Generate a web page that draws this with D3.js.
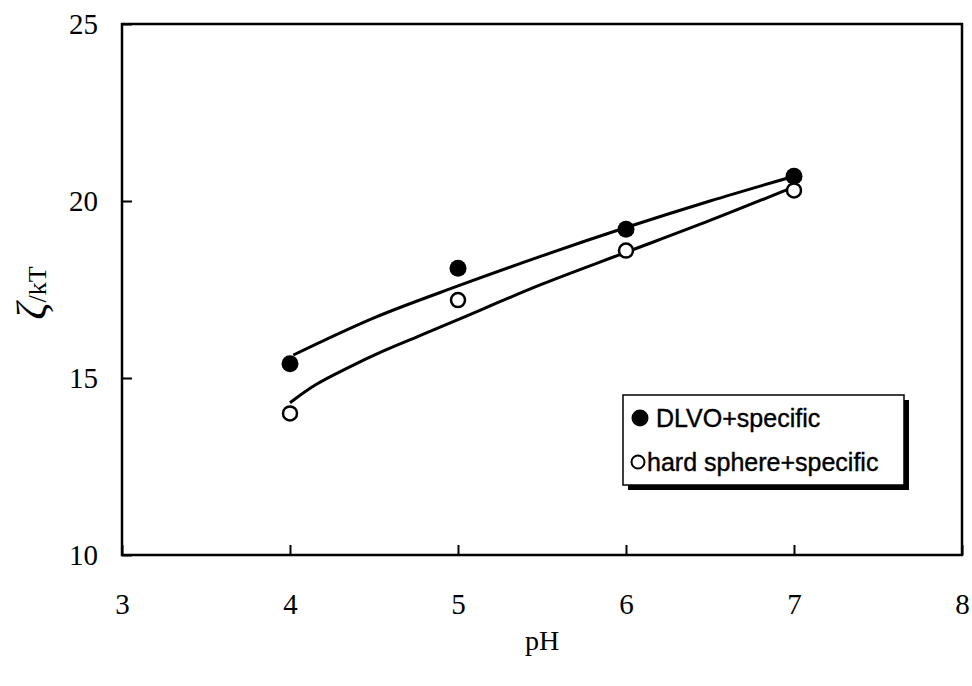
<!DOCTYPE html>
<html>
<head>
<meta charset="utf-8">
<script src="https://cdn.jsdelivr.net/npm/d3@7"></script>
<style>
  body { margin: 0; background: #fff; }
  svg text { fill: #000; }
</style>
</head>
<body>
<div id="chart"></div>
<script>
// ******* Data *******
var phPoints = [4, 5, 6, 7];
var dlvoValues = [15.4, 18.1, 19.2, 20.7];
var hardValues = [14.0, 17.2, 18.6, 20.3];

// fitted curves
var dlvoCurvePh = [4.02, 4.5, 5, 5.5, 6, 6.5, 7];
var dlvoCurveVal = [15.65, 16.7, 17.6, 18.45, 19.25, 20.0, 20.7];
var hardCurvePh = [4.0, 4.15, 4.35, 4.55, 4.75, 5, 5.5, 6, 6.5, 7];
var hardCurveVal = [14.3, 14.8, 15.3, 15.75, 16.15, 16.65, 17.65, 18.55, 19.45, 20.4];

var xTicks = [3, 4, 5, 6, 7, 8];
var yTicks = [10, 15, 20, 25];
var legendKeys = ["DLVO+specific", "hard sphere+specific"];

// ******* Chart set up *******
var w = 972, h = 686;
var margin = { left: 122, top: 24, right: 10, bottom: 131 };
var svg = d3.select("#chart").append("svg").attr("width", w).attr("height", h);

var x = d3.scaleLinear().domain([3, 8]).range([margin.left, w - margin.right]);
var y = d3.scaleLinear().domain([10, 25]).range([h - margin.bottom, margin.top]);

// ******* Frame + ticks *******
svg.append("rect")
  .attr("x", x(3)).attr("y", y(25))
  .attr("width", x(8) - x(3)).attr("height", y(10) - y(25))
  .attr("fill", "none").attr("stroke", "#000").attr("stroke-width", 2.5);

var xAxis = svg.append("g")
  .attr("transform", "translate(0," + y(10) + ")")
  .call(d3.axisBottom(x).tickValues(xTicks).tickSize(-10).tickPadding(38).tickFormat(d3.format("d")));
var yAxis = svg.append("g")
  .attr("transform", "translate(" + x(3) + ",0)")
  .call(d3.axisLeft(y).tickValues(yTicks).tickSize(-10).tickPadding(24).tickFormat(d3.format("d")));

[xAxis, yAxis].forEach(function (a) {
  a.select(".domain").remove();
  a.selectAll(".tick line").attr("stroke", "#000").attr("stroke-width", 2);
  a.selectAll(".tick text")
    .style("font-family", "'Liberation Serif', 'DejaVu Serif', serif")
    .style("font-size", "29px");
});

// axis titles
svg.append("text")
  .attr("x", x(5.5)).attr("y", 650)
  .attr("text-anchor", "middle")
  .style("font-family", "'Liberation Serif', serif")
  .style("font-size", "28px")
  .text("pH");

var yTitle = svg.append("text")
  .attr("transform", "translate(46,293) rotate(-90)")
  .attr("text-anchor", "middle")
  .style("font-family", "'Liberation Serif', serif");
yTitle.append("tspan").style("font-size", "42px").style("font-style", "italic").text("ζ");
yTitle.append("tspan").style("font-size", "26px").text("/kT");

// ******* Curves *******
var line = d3.line().x(d => x(d[0])).y(d => y(d[1])).curve(d3.curveCatmullRom);

svg.append("path")
  .datum(dlvoCurvePh.map((p, i) => [p, dlvoCurveVal[i]]))
  .attr("d", line)
  .attr("fill", "none").attr("stroke", "#000").attr("stroke-width", 3);

svg.append("path")
  .datum(hardCurvePh.map((p, i) => [p, hardCurveVal[i]]))
  .attr("d", line)
  .attr("fill", "none").attr("stroke", "#000").attr("stroke-width", 3);

// ******* Points *******
svg.selectAll(".dlvo")
  .data(phPoints)
  .enter().append("circle")
  .attr("class", "dlvo")
  .attr("cx", d => x(d))
  .attr("cy", (d, i) => y(dlvoValues[i]))
  .attr("r", 8.5)
  .attr("fill", "#000");

svg.selectAll(".hard")
  .data(phPoints)
  .enter().append("circle")
  .attr("class", "hard")
  .attr("cx", d => x(d))
  .attr("cy", (d, i) => y(hardValues[i]))
  .attr("r", 7)
  .attr("fill", "#fff").attr("stroke", "#000").attr("stroke-width", 2.5);

// ******* Legend *******
var lg = svg.append("g").attr("transform", "translate(623,395)");
var lw = 281, lh = 90;
lg.append("rect").attr("x", 5).attr("y", 5).attr("width", lw).attr("height", lh).attr("fill", "#000");
lg.append("rect").attr("width", lw).attr("height", lh).attr("fill", "#fff").attr("stroke", "#000").attr("stroke-width", 1.5);

lg.selectAll(".lgdot")
  .data(legendKeys)
  .enter().append("circle")
  .attr("cx", (d, i) => i == 0 ? 17 : 15)
  .attr("cy", (d, i) => 23 + i * 44)
  .attr("r", (d, i) => i == 0 ? 8.5 : 6.5)
  .attr("fill", (d, i) => i == 0 ? "#000" : "#fff")
  .attr("stroke", "#000").attr("stroke-width", (d, i) => i == 0 ? 0 : 2);

lg.selectAll(".lglabel")
  .data(legendKeys)
  .enter().append("text")
  .attr("x", (d, i) => i == 0 ? 33 : 24)
  .attr("y", (d, i) => 23 + i * 44)
  .attr("dy", "0.35em")
  .style("font-family", "'Liberation Sans', Arial, sans-serif")
  .style("font-size", "25px")
  .style("stroke", "#000").style("stroke-width", 0.4)
  .text(d => d);
</script>
</body>
</html>
